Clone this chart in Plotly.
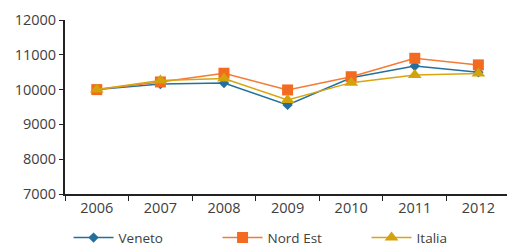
import plotly.graph_objects as go

years = ["2006", "2007", "2008", "2009", "2010", "2011", "2012"]
veneto = [10000, 10160, 10190, 9560, 10340, 10680, 10500]
nord_est = [10000, 10220, 10470, 9990, 10370, 10900, 10710]
italia = [10000, 10260, 10320, 9700, 10200, 10420, 10460]
y_ticks = [7000, 8000, 9000, 10000, 11000, 12000]
y_tick_text = ["7000", "8000", "9000", "10000", "11000", "12000"]

fig = go.Figure()
fig.add_trace(go.Scatter(x=years, y=veneto, name="Veneto", mode="lines+markers",
                         line=dict(color="#23709E", width=1.5),
                         marker=dict(symbol="diamond", size=8, color="#23709E")))
fig.add_trace(go.Scatter(x=years, y=nord_est, name="Nord Est", mode="lines+markers",
                         line=dict(color="#F47A36", width=1.5),
                         marker=dict(symbol="square", size=11, color="#F26B21")))
fig.add_trace(go.Scatter(x=years, y=italia, name="Italia", mode="lines+markers",
                         line=dict(color="#D8A510", width=1.5),
                         marker=dict(symbol="triangle-up", size=12, color="#D4A20A")))

fig.update_layout(
    width=507, height=246,
    margin=dict(l=65, r=0, t=20, b=52, autoexpand=False),
    paper_bgcolor="white", plot_bgcolor="white",
    font=dict(family="Open Sans", size=14, color="#404040"),
    showlegend=True,
    legend=dict(orientation="h", x=-0.001, xanchor="left", y=-0.252, yanchor="middle",
                itemwidth=40, entrywidth=90, indentation=4,
                font=dict(size=13.5, color="#404040"),
                bgcolor="rgba(0,0,0,0)", tracegroupgap=0),
    xaxis=dict(type="category", range=[-0.5, 6.45], showline=True, linecolor="#222222",
               linewidth=2, ticks="outside", tickson="boundaries", ticklen=5,
               tickcolor="#222222", showgrid=False, zeroline=False, automargin=False,
               tickfont=dict(size=14.5)),
    yaxis=dict(range=[7000, 12000], tickvals=y_ticks, ticktext=y_tick_text, showline=True,
               linecolor="#222222", linewidth=2, ticks="outside", ticklen=4,
               tickcolor="#222222", showgrid=False, zeroline=False, automargin=False,
               tickfont=dict(size=14.5)),
)
fig.write_html("out.html", config={"displayModeBar": False},
               post_script="document.body.style.margin='0';document.body.style.overflow='hidden';")
